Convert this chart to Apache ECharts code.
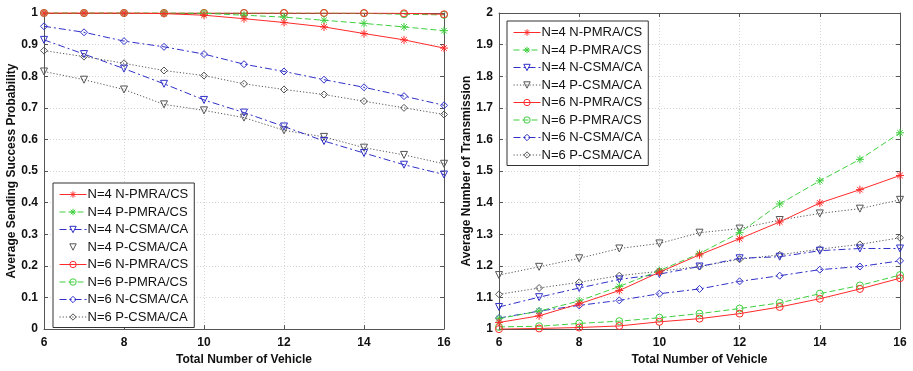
<!DOCTYPE html>
<html><head><meta charset="utf-8">
<script src="https://cdn.jsdelivr.net/npm/echarts@6/dist/echarts.min.js"></script>
<style>html,body{margin:0;padding:0;background:#fff}#c{width:913px;height:371px}</style>
</head><body><div id="c"></div>
<script>
const vehicles = [6,7,8,9,10,11,12,13,14,15,16];
const seriesNames = ['N=4 N-PMRA/CS','N=4 P-PMRA/CS','N=4 N-CSMA/CA','N=4 P-CSMA/CA','N=6 N-PMRA/CS','N=6 P-PMRA/CS','N=6 N-CSMA/CA','N=6 P-CSMA/CA'];
// Left: Average Sending Success Probability
const succ_n4_npmra = [1.0,1.0,1.0,0.998,0.993,0.982,0.970,0.956,0.935,0.915,0.889];
const succ_n4_ppmra = [1.0,1.0,1.0,1.0,0.999,0.993,0.987,0.977,0.967,0.956,0.944];
const succ_n4_ncsma = [0.915,0.870,0.824,0.776,0.725,0.685,0.641,0.595,0.557,0.520,0.489];
const succ_n4_pcsma = [0.815,0.789,0.758,0.711,0.692,0.669,0.629,0.608,0.574,0.551,0.523];
const succ_n6_npmra = [1.0,1.0,1.0,1.0,1.0,1.0,1.0,1.0,1.0,0.999,0.996];
const succ_n6_ppmra = [1.0,1.0,1.0,1.0,1.0,1.0,1.0,1.0,0.999,0.996,0.994];
const succ_n6_ncsma = [0.958,0.939,0.911,0.893,0.870,0.838,0.815,0.789,0.765,0.737,0.708];
const succ_n6_pcsma = [0.881,0.862,0.841,0.818,0.802,0.776,0.758,0.742,0.721,0.700,0.679];
// Right: Average Number of Transmission
const tx_n4_npmra = [1.021,1.042,1.080,1.122,1.180,1.235,1.286,1.339,1.399,1.441,1.486];
const tx_n4_ppmra = [1.033,1.057,1.089,1.135,1.185,1.239,1.305,1.396,1.469,1.537,1.621];
const tx_n4_ncsma = [1.070,1.101,1.130,1.157,1.174,1.198,1.224,1.229,1.248,1.255,1.255];
const tx_n4_pcsma = [1.171,1.197,1.224,1.255,1.271,1.305,1.318,1.345,1.366,1.381,1.409];
const tx_n6_npmra = [1.000,1.002,1.005,1.010,1.023,1.033,1.049,1.070,1.096,1.127,1.161];
const tx_n6_ppmra = [1.007,1.009,1.018,1.025,1.036,1.049,1.065,1.083,1.112,1.138,1.171];
const tx_n6_ncsma = [1.035,1.057,1.075,1.091,1.112,1.127,1.151,1.169,1.188,1.198,1.216];
const tx_n6_pcsma = [1.110,1.130,1.148,1.169,1.183,1.198,1.221,1.235,1.253,1.268,1.289];
const leftY = {min:0,max:1,interval:0.1};
const rightY = {min:1,max:2,interval:0.1};
const xTicks = {min:6,max:16,interval:2};

const RED='#ff2a2a', GREEN='#3fcf3f', BLUE='#3030c8', BLACK='#555555';
const STAR='path://M5,0L5,10M0,5L10,5M1.5,1.5L8.5,8.5M8.5,1.5L1.5,8.5';
const TRI='path://M0,0L10,0L5,9Z';
const CIR='path://M5,0A5,5,0,1,1,4.99,0Z';
const DIA='path://M5,0L10,5L5,10L0,5Z';
const DASH=[6,3], DASHDOT=[7,3,2,3], DOT=[1.2,2];
const styles = [
  {c:RED,s:STAR,l:'solid'},{c:GREEN,s:STAR,l:DASH},{c:BLUE,s:TRI,l:DASHDOT},{c:BLACK,s:TRI,l:DOT},
  {c:RED,s:CIR,l:'solid'},{c:GREEN,s:CIR,l:DASH},{c:BLUE,s:DIA,l:DASHDOT},{c:BLACK,s:DIA,l:DOT}
];
const leftData=[succ_n4_npmra,succ_n4_ppmra,succ_n4_ncsma,succ_n4_pcsma,succ_n6_npmra,succ_n6_ppmra,succ_n6_ncsma,succ_n6_pcsma];
const rightData=[tx_n4_npmra,tx_n4_ppmra,tx_n4_ncsma,tx_n4_pcsma,tx_n6_npmra,tx_n6_ppmra,tx_n6_ncsma,tx_n6_pcsma];

const FONT='"Liberation Sans", Arial, sans-serif';
const lab={fontFamily:FONT,fontWeight:'bold',fontSize:12,color:'#111'};
function xAx(gi,top){
  return {type:'value',gridIndex:gi,min:xTicks.min,max:xTicks.max,interval:xTicks.interval,position:top?'top':'bottom',
    name:top?'':'Total Number of Vehicle',nameLocation:'middle',nameGap:24,nameTextStyle:lab,
    axisLine:{show:true,onZero:false,lineStyle:{color:'#555',width:1}},
    axisTick:{show:true,inside:true,length:4,lineStyle:{color:'#555'}},
    axisLabel:{show:!top,...lab,margin:8},
    splitLine:{show:!top,lineStyle:{color:'#d4d4d4',type:[1,2]}}};
}
function yAx(gi,r,right,name){
  return {type:'value',gridIndex:gi,min:r.min,max:r.max,interval:r.interval,position:right?'right':'left',
    name:right?'':name,nameLocation:'middle',nameGap:25,nameTextStyle:lab,
    axisLine:{show:true,onZero:false,lineStyle:{color:'#555',width:1}},
    axisTick:{show:true,inside:true,length:4,lineStyle:{color:'#555'}},
    axisLabel:{show:!right,...lab,margin:6,formatter:v=>String(Math.round(v*10)/10)},
    splitLine:{show:!right,lineStyle:{color:'#d4d4d4',type:[1,2]}}};
}
const series=[];
[leftData,rightData].forEach((arr,gi)=>{
  arr.forEach((d,i)=>{
    const st=styles[i];
    series.push({name:seriesNames[i],type:'line',xAxisIndex:gi*2,yAxisIndex:gi*2,
      data:vehicles.map((x,k)=>[x,d[k]]),symbol:st.s,symbolSize:st.s===STAR?8:7,showSymbol:true,
      lineStyle:{color:st.c,width:1,type:st.l},
      itemStyle:{color:'rgba(0,0,0,0)',borderColor:st.c,borderWidth:1},
      z:10-i,animation:false});
  });
});
function legend(left,top,hideIdx){
  return {show:true,orient:'vertical',left:left,top:top,itemGap:4.5,itemWidth:27,itemHeight:8,
    data:seriesNames.map((n,i)=>({name:n,
      itemStyle:{color:'rgba(0,0,0,0)',borderColor:styles[i].c,borderWidth:1},
      lineStyle:{color:styles[i].c,width:1,type:styles[i].l,opacity:i===hideIdx?0:1}})),
    textStyle:{fontFamily:FONT,fontSize:13,color:'#111',padding:[0,0,0,-4]},
    backgroundColor:'#fff',borderColor:'#333',borderWidth:1,padding:[5,6,4,6],
    selectedMode:false};
}
const chart=echarts.init(document.getElementById('c'),null,{renderer:'canvas'});
chart.setOption({
  animation:false,
  grid:[{left:44,right:469,top:13,bottom:39,show:false},{left:499,right:13,top:13,bottom:39,show:false}],
  xAxis:[xAx(0,false),xAx(0,true),xAx(1,false),xAx(1,true)],
  yAxis:[yAx(0,leftY,false,'Average Sending Success Probability'),yAx(0,leftY,true),
         yAx(1,rightY,false,'Average Number of Transmission'),yAx(1,rightY,true)],
  legend:[legend(53,183,3),legend(507,21,-1)],
  series:series
});
</script></body></html>
